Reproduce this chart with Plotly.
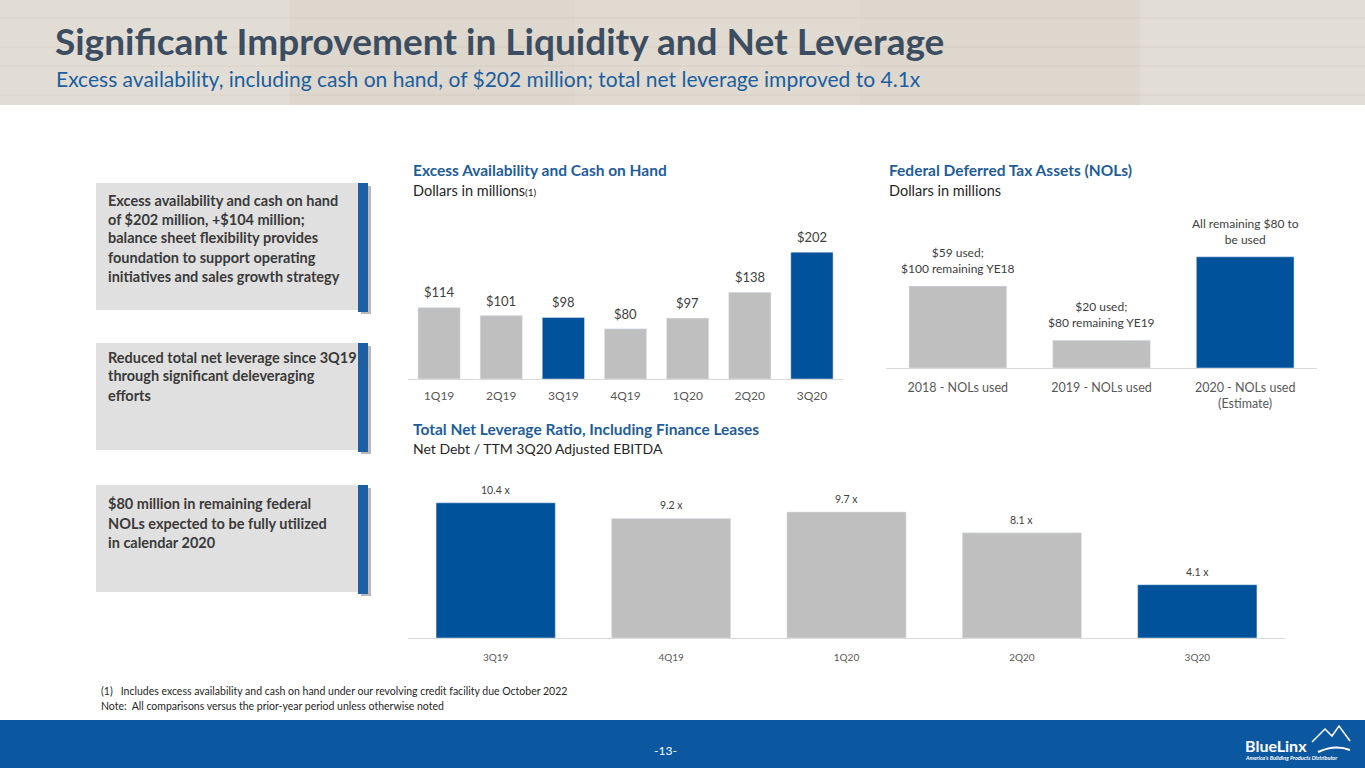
import plotly.graph_objects as go

W, H = 1365, 768

# chart data
liq_quarters = ["1Q19", "2Q19", "3Q19", "4Q19", "1Q20", "2Q20", "3Q20"]
liq_values = [114, 101, 98, 80, 97, 138, 202]
liq_highlight = [False, False, True, False, False, False, True]

nol_years = ["2018 - NOLs used", "2019 - NOLs used", "2020 - NOLs used<br>(Estimate)"]
nol_values = [59, 20, 80]
nol_labels = ["$59 used;<br>$100 remaining YE18",
              "$20 used;<br>$80 remaining YE19",
              "All remaining $80 to<br>be used"]
nol_highlight = [False, False, True]

lev_quarters = ["3Q19", "4Q19", "1Q20", "2Q20", "3Q20"]
lev_values = [10.4, 9.2, 9.7, 8.1, 4.1]
lev_highlight = [True, False, False, False, True]

box_texts = [
    ["Excess availability and cash on hand", "of $202 million, +$104 million;",
     "balance sheet flexibility provides", "foundation to support operating",
     "initiatives and sales growth strategy"],
    ["Reduced total net leverage since 3Q19", "through significant deleveraging", "efforts"],
    ["$80 million in remaining federal", "NOLs expected to be fully utilized", "in calendar 2020"],
]

BLUE = "#00529b"
GREY = "#bfbfbf"
TITLE_BLUE = "#1f5d9a"
FONT = "Lato"


def px(x):
    return x / W


def py(y):
    return 1 - y / H


def colors(flags):
    return [BLUE if f else GREY for f in flags]


fig = go.Figure()

# excess availability (labels added as annotations below)
fig.add_trace(go.Bar(x=liq_quarters, y=liq_values, marker_color=colors(liq_highlight),
                     cliponaxis=False, xaxis="x", yaxis="y", hoverinfo="skip"))

# NOLs
fig.add_trace(go.Bar(x=nol_years, y=nol_values, marker_color=colors(nol_highlight),
                     cliponaxis=False, xaxis="x2", yaxis="y2", hoverinfo="skip"))

# leverage
fig.add_trace(go.Bar(x=lev_quarters, y=lev_values, marker_color=colors(lev_highlight),
                     cliponaxis=False, xaxis="x3", yaxis="y3", hoverinfo="skip"))

xcommon = dict(showline=True, linecolor="#d9d9d9", linewidth=1, showgrid=False,
               zeroline=False, ticks="", fixedrange=True)
ycommon = dict(visible=False, showgrid=False, zeroline=False, fixedrange=True)

fig.update_layout(
    width=W, height=H, margin=dict(l=0, r=0, t=0, b=0),
    paper_bgcolor="white", plot_bgcolor="white", showlegend=False,
    font=dict(family=FONT, color="#404040"),
    xaxis=dict(domain=[px(408), px(843)], anchor="y",
               tickfont=dict(size=12, color="#595959"), ticklabelstandoff=6, **xcommon),
    yaxis=dict(domain=[py(379), py(222)], range=[0, 250], anchor="x", **ycommon),
    xaxis2=dict(domain=[px(886), px(1317)], anchor="y2",
                tickfont=dict(size=12.5, color="#595959"), ticklabelstandoff=8, **xcommon),
    yaxis2=dict(domain=[py(368), py(229)], range=[0, 100], anchor="x2", **ycommon),
    xaxis3=dict(domain=[px(408), px(1285)], anchor="y3",
                tickfont=dict(size=10, color="#595959"), ticklabelstandoff=10, **xcommon),
    yaxis3=dict(domain=[py(638), py(495)], range=[0, 11], anchor="x3", **ycommon),
    bargap=0.32,
)

shapes = []
# wood banner
shapes.append(dict(type="rect", xref="paper", yref="paper", x0=0, x1=1, y0=py(105), y1=1,
                   fillcolor="#ddd7cd", line_width=0, layer="below"))
for x0, x1, c in [(0, 290, "#e2ddd4"), (575, 860, "#e0dad0"), (1140, 1365, "#e3ded5")]:
    shapes.append(dict(type="rect", xref="paper", yref="paper", x0=px(x0), x1=px(x1),
                       y0=py(105), y1=1, fillcolor=c, line_width=0, layer="below"))
for yy in [18, 47, 66, 95]:
    shapes.append(dict(type="line", xref="paper", yref="paper", x0=0, x1=1, y0=py(yy), y1=py(yy),
                       line=dict(color="rgba(190,180,165,0.25)", width=1), layer="below"))
# footer band
shapes.append(dict(type="rect", xref="paper", yref="paper", x0=0, x1=1, y0=0, y1=py(720),
                   fillcolor="#0c58a0", line_width=0, layer="below"))

# left boxes
boxes = [(183, 310), (343, 450), (485, 592)]
for y0, y1 in boxes:
    shapes.append(dict(type="rect", xref="paper", yref="paper", x0=px(96), x1=px(362),
                       y0=py(y1), y1=py(y0), fillcolor="#e0e0e0", line_width=0, layer="below"))
    shapes.append(dict(type="rect", xref="paper", yref="paper", x0=px(361), x1=px(371),
                       y0=py(y1 + 4), y1=py(y0 + 3), fillcolor="#b8b8b8", line_width=0, layer="below"))
    shapes.append(dict(type="rect", xref="paper", yref="paper", x0=px(358), x1=px(368),
                       y0=py(y1 + 2), y1=py(y0), fillcolor="#1d5fa3", line_width=0, layer="below"))

# logo mountains
shapes.append(dict(type="path", xref="paper", yref="paper",
                   path="M %f %f L %f %f L %f %f L %f %f L %f %f" % (
                       px(1312), py(742), px(1325), py(729), px(1332), py(736),
                       px(1339), py(726), px(1350), py(741)),
                   line=dict(color="white", width=1.5)))
shapes.append(dict(type="path", xref="paper", yref="paper",
                   path="M %f %f Q %f %f %f %f" % (px(1318), py(752), px(1335), py(744),
                                                   px(1350), py(750)),
                   line=dict(color="white", width=2)))

annotations = []


def note(x, y, text, size, color, bold=False, xanchor="left", family=FONT, italic=False):
    if bold:
        text = "<b>%s</b>" % text
    if italic:
        text = "<i>%s</i>" % text
    annotations.append(dict(x=px(x), y=py(y), xref="paper", yref="paper", text=text,
                            showarrow=False, xanchor=xanchor, yanchor="middle", align="left",
                            font=dict(size=size, color=color, family=family)))


note(53, 41, "Significant Improvement in Liquidity and Net Leverage", 37, "#3c4d61", bold=True)
note(54, 78, "Excess availability, including cash on hand, of $202 million; total net leverage improved to 4.1x",
     21, "#1c5e9f")

line_ys = [[200, 219, 238, 257, 276], [357, 376, 395], [503, 523, 542]]
for lines, ys in zip(box_texts, line_ys):
    for t, yy in zip(lines, ys):
        note(106, yy, t, 14.5, "#3a3a3a", bold=True)

note(411, 170, "Excess Availability and Cash on Hand", 15.5, TITLE_BLUE, bold=True)
note(411, 190, "Dollars in millions<span style='font-size:10px'>(1)</span>", 14.5, "#262626")
note(887, 170, "Federal Deferred Tax Assets (NOLs)", 15.5, TITLE_BLUE, bold=True)
note(887, 190, "Dollars in millions", 14.5, "#262626")
note(411, 429, "Total Net Leverage Ratio, Including Finance Leases", 15.5, TITLE_BLUE, bold=True)
note(411, 448, "Net Debt / TTM 3Q20 Adjusted EBITDA", 14, "#262626")

note(99, 691, "(1)&nbsp;&nbsp;&nbsp;Includes excess availability and cash on hand under our revolving credit facility due October 2022",
     10.5, "#262626")
note(99, 706, "Note:&nbsp;&nbsp;All comparisons versus the prior-year period unless otherwise noted", 10.5, "#262626")

note(665, 750, "-13-", 12, "white", xanchor="center")
note(1243, 745, "BlueLinx", 16, "white", bold=True)
note(1243, 758, "America's Building Products Distributor", 5.5, "white", bold=True, italic=True)

# bar value labels, placed on each chart's own axes
for cat, val in zip(liq_quarters, liq_values):
    annotations.append(dict(x=cat, y=val, xref="x", yref="y", text="$%d" % val, showarrow=False,
                            xanchor="center", yanchor="bottom", yshift=5,
                            font=dict(size=13, color="#404040", family=FONT)))
for cat, val, lab in zip(nol_years, nol_values, nol_labels):
    annotations.append(dict(x=cat, y=val, xref="x2", yref="y2", text=lab, showarrow=False,
                            xanchor="center", yanchor="bottom", yshift=8,
                            font=dict(size=12, color="#404040", family=FONT)))
for cat, val in zip(lev_quarters, lev_values):
    annotations.append(dict(x=cat, y=val, xref="x3", yref="y3", text="%.1f x" % val, showarrow=False,
                            xanchor="center", yanchor="bottom", yshift=5,
                            font=dict(size=10.5, color="#404040", family=FONT)))

fig.update_layout(shapes=shapes, annotations=annotations)

fig.write_html("out.html", config={"displayModeBar": False},
               post_script="document.body.style.margin='0';document.body.style.overflow='hidden';")
